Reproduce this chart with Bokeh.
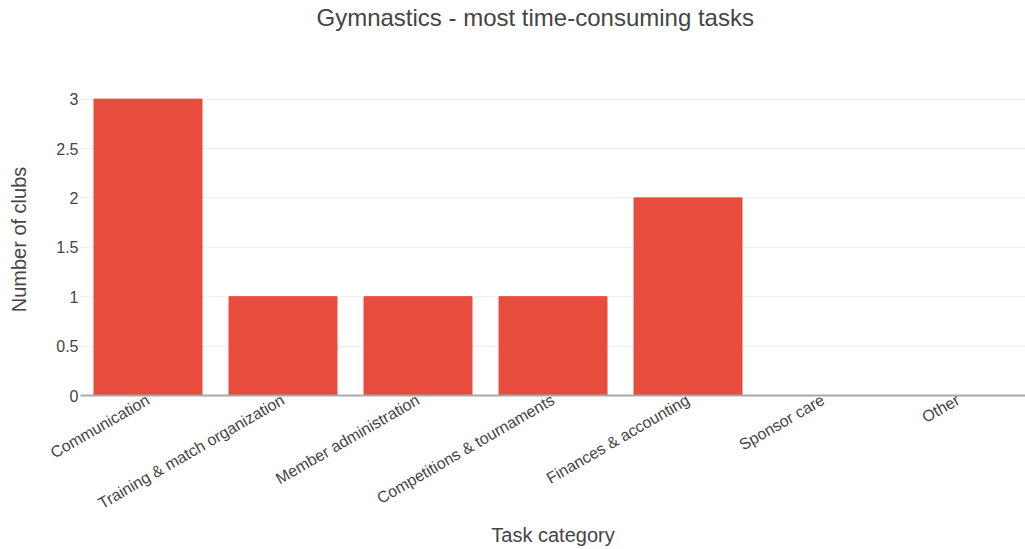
import math
from bokeh.plotting import figure
from bokeh.models import Range1d, FixedTicker, NumeralTickFormatter, Title
from bokeh.embed import file_html
from bokeh.resources import INLINE

categories = ["Communication", "Training & match organization", "Member administration",
              "Competitions & tournaments", "Finances & accounting", "Sponsor care", "Other"]
clubs = [3, 1, 1, 1, 2, 0, 0]
y_ticks = [0, 0.5, 1, 1.5, 2, 2.5, 3]
title_text = "Gymnastics - most time-consuming tasks"

FONT = "Liberation Sans"
GREY = "#444444"

p = figure(width=1025, height=549, x_range=categories, y_range=Range1d(0, 3.158),
           output_backend="svg", toolbar_location=None,
           min_border_left=80, min_border_right=0, min_border_top=83, min_border_bottom=153)
p.x_range.range_padding = 0

p.vbar(x=categories, top=clubs, width=0.8, color="#e74c3c", line_color="#e74c3c")

# spacer closest to the frame, then the real title above it
spacer = Title(text=" ", text_font_size="1px", standoff=45, text_color="white")
p.add_layout(spacer, "above")
main_title = Title(text=title_text, align="left", offset=236, vertical_align="top",
                   standoff=6, text_font=FONT, text_font_size="24px",
                   text_font_style="normal", text_color=GREY)
p.add_layout(main_title, "above")

p.outline_line_color = None
p.background_fill_color = "white"
p.border_fill_color = "white"

p.xgrid.grid_line_color = None
p.ygrid.grid_line_color = "#eeeeee"
p.ygrid.grid_line_width = 1

p.yaxis.ticker = FixedTicker(ticks=y_ticks)
p.yaxis.formatter = NumeralTickFormatter(format="0.[0]")
p.yaxis.axis_line_color = None
p.yaxis.major_tick_line_color = None
p.yaxis.minor_tick_line_color = None
p.yaxis.major_tick_out = 0
p.yaxis.major_tick_in = 0
p.yaxis.major_label_standoff = 2
p.yaxis.axis_label = "Number of clubs"
p.yaxis.axis_label_standoff = 23

p.xaxis.axis_line_color = "#a8a8a8"
p.xaxis.axis_line_width = 2
p.xaxis.major_tick_line_color = None
p.xaxis.minor_tick_line_color = None
p.xaxis.major_tick_out = 0
p.xaxis.major_tick_in = 0
p.xaxis.major_label_orientation = math.pi / 6
p.xaxis.major_label_standoff = 3
p.xaxis.axis_label = "Task category"
p.xaxis.axis_label_standoff = 2

for ax in (p.xaxis, p.yaxis):
    ax.major_label_text_font = FONT
    ax.major_label_text_font_size = "16px"
    ax.major_label_text_color = GREY
    ax.axis_label_text_font = FONT
    ax.axis_label_text_font_size = "20px"
    ax.axis_label_text_font_style = "normal"
    ax.axis_label_text_color = GREY

open("out.html", "w").write(file_html(p, INLINE))
